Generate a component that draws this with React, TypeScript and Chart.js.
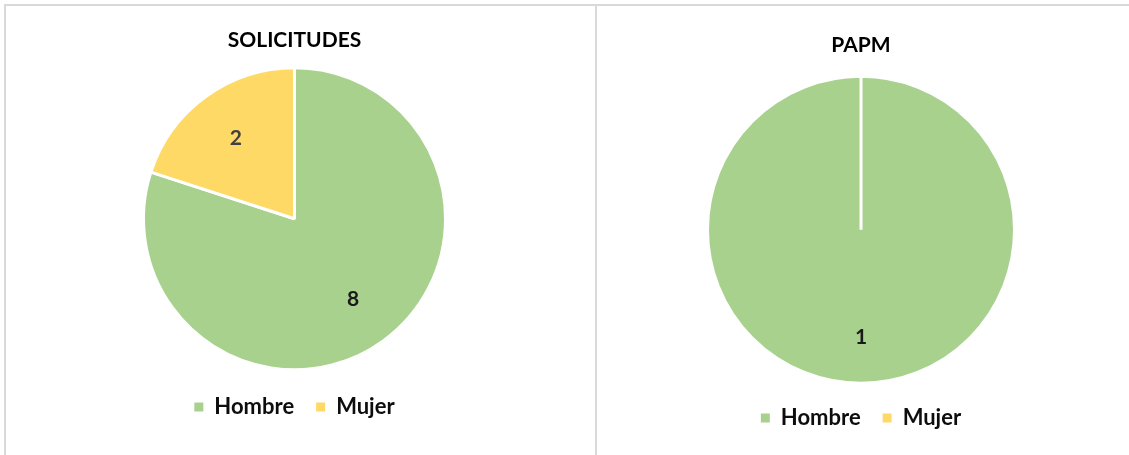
import React, { useEffect, useRef } from "react";
import { Chart, registerables } from "chart.js";

Chart.register(...registerables);

const categories = ["Hombre", "Mujer"];
const solicitudesValues = [8, 2];
const papmValues = [1, 0];
const sliceColors = ["#A9D18E", "#FFD966"];
const labelColors = ["#1a1a1a", "#404040"];

const FONT = "Lato, 'Open Sans', sans-serif";

const sliceLabelPlugin = {
  id: "sliceLabels",
  afterDatasetsDraw(chart: any, _args: any, opts: any) {
    const ctx = chart.ctx;
    const meta = chart.getDatasetMeta(0);
    const data = chart.data.datasets[0].data as number[];
    const factor = opts.radiusFactor ?? 0.67;
    ctx.save();
    ctx.font = `bold ${opts.size ?? 21}px ${FONT}`;
    ctx.textAlign = "center";
    ctx.textBaseline = "middle";
    meta.data.forEach((arc: any, i: number) => {
      const v = data[i];
      if (!v) return;
      const { x, y, startAngle, endAngle, outerRadius } = arc.getProps(
        ["x", "y", "startAngle", "endAngle", "outerRadius"],
        true
      );
      const mid = (startAngle + endAngle) / 2;
      const r = outerRadius * factor;
      ctx.fillStyle = labelColors[i];
      ctx.fillText(String(v), x + Math.cos(mid) * r, y + Math.sin(mid) * r);
    });
    ctx.restore();
  },
};

type PieProps = {
  title: string;
  values: number[];
  width: number;
  height: number;
  radius: number;
  titlePad: { top: number; bottom: number };
  layoutPad: { top: number; bottom: number; left: number; right: number };
  labelFactor: number;
};

function PieChart(p: PieProps) {
  const ref = useRef<HTMLCanvasElement | null>(null);
  useEffect(() => {
    if (!ref.current) return;
    const chart = new Chart(ref.current, {
      type: "pie",
      data: {
        labels: categories,
        datasets: [
          {
            data: p.values,
            backgroundColor: sliceColors,
            borderColor: "#ffffff",
            borderWidth: 3,
            radius: p.radius,
          } as any,
        ],
      },
      options: {
        responsive: false,
        animation: false,
        layout: { padding: p.layoutPad },
        plugins: {
          title: {
            display: true,
            text: p.title,
            color: "#000000",
            font: { family: FONT, size: 21, weight: "bold", lineHeight: 1.2 },
            padding: p.titlePad,
          },
          legend: {
            position: "bottom",
            labels: {
              color: "#0d0d0d",
              font: { family: FONT, size: 22, weight: "bold" },
              boxWidth: 9,
              boxHeight: 9,
              padding: 22,
              generateLabels(chart: any) {
                const items = Chart.overrides.pie.plugins.legend.labels.generateLabels(chart);
                return items.map((it: any) => ({ ...it, lineWidth: 0, strokeStyle: "rgba(0,0,0,0)", hidden: false }));
              },
            },
            onClick: () => {},
          },
          tooltip: { enabled: false },
          sliceLabels: { radiusFactor: p.labelFactor, size: 21 },
        } as any,
      },
      plugins: [sliceLabelPlugin],
    });
    return () => chart.destroy();
  }, []);
  return <canvas ref={ref} width={p.width} height={p.height} style={{ display: "block" }} />;
}

export default function App() {
  return (
    <div
      style={{
        position: "absolute",
        left: 0,
        top: 0,
        width: 1129,
        height: 455,
        background: "#ffffff",
        overflow: "hidden",
      }}
    >
      <div
        style={{
          position: "absolute",
          left: 4,
          top: 4,
          width: 593,
          height: 460,
          boxSizing: "border-box",
          borderLeft: "2px solid #d9d9d9",
          borderTop: "2px solid #d9d9d9",
          borderRight: "2px solid #d9d9d9",
        }}
      >
        <PieChart
          title="SOLICITUDES"
          values={solicitudesValues}
          width={587}
          height={449}
          radius={151}
          titlePad={{ top: 21.4, bottom: 10.9 }}
          layoutPad={{ top: 0, bottom: 27, left: 0, right: 10 }}
          labelFactor={0.66}
        />
      </div>
      <div
        style={{
          position: "absolute",
          left: 597,
          top: 4,
          width: 532,
          height: 460,
          boxSizing: "border-box",
          borderTop: "2px solid #d9d9d9",
        }}
      >
        <PieChart
          title="PAPM"
          values={papmValues}
          width={532}
          height={449}
          radius={153.5}
          titlePad={{ top: 26.9, bottom: 16.4 }}
          layoutPad={{ top: 0, bottom: 16, left: 0, right: 4 }}
          labelFactor={0.7}
        />
      </div>
    </div>
  );
}
